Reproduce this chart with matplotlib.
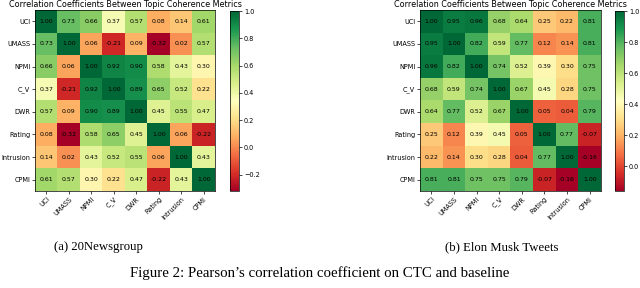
import numpy as np
import matplotlib
matplotlib.use("Agg")
import matplotlib.pyplot as plt

labels = ["UCI", "UMASS", "NPMI", "C_V", "DWR", "Rating", "Intrusion", "CPMI"]

news = [
    [1.00, 0.73, 0.66, 0.37, 0.57, 0.08, 0.14, 0.61],
    [0.73, 1.00, 0.06, -0.21, 0.09, -0.32, 0.02, 0.57],
    [0.66, 0.06, 1.00, 0.92, 0.90, 0.58, 0.43, 0.30],
    [0.37, -0.21, 0.92, 1.00, 0.89, 0.65, 0.52, 0.22],
    [0.57, 0.09, 0.90, 0.89, 1.00, 0.45, 0.55, 0.47],
    [0.08, -0.32, 0.58, 0.65, 0.45, 1.00, 0.06, -0.22],
    [0.14, 0.02, 0.43, 0.52, 0.55, 0.06, 1.00, 0.43],
    [0.61, 0.57, 0.30, 0.22, 0.47, -0.22, 0.43, 1.00],
]

musk = [
    [1.00, 0.95, 0.96, 0.68, 0.64, 0.25, 0.22, 0.81],
    [0.95, 1.00, 0.82, 0.59, 0.77, 0.12, 0.14, 0.81],
    [0.96, 0.82, 1.00, 0.74, 0.52, 0.39, 0.30, 0.75],
    [0.68, 0.59, 0.74, 1.00, 0.67, 0.45, 0.28, 0.75],
    [0.64, 0.77, 0.52, 0.67, 1.00, 0.05, 0.04, 0.79],
    [0.25, 0.12, 0.39, 0.45, 0.05, 1.00, 0.77, -0.07],
    [0.22, 0.14, 0.30, 0.28, 0.04, 0.77, 1.00, -0.16],
    [0.81, 0.81, 0.75, 0.75, 0.79, -0.07, -0.16, 1.00],
]

title = "Correlation Coefficients Between Topic Coherence Metrics"
captions = ["(a) 20Newsgroup", "(b) Elon Musk Tweets"]
figcap = "Figure 2: Pearson\u2019s correlation coefficient on CTC and baseline"

W, H = 640, 288
fig = plt.figure(figsize=(6.4, 2.88), dpi=100)

def px(x0, y0, x1, y1):
    return [x0 / W, 1 - y1 / H, (x1 - x0) / W, (y1 - y0) / H]

panels = [
    (news, px(35, 10, 215, 191), px(230, 11, 239, 191), [-0.2, 0.0, 0.2, 0.4, 0.6, 0.8, 1.0]),
    (musk, px(420, 10, 601, 191), px(615, 11, 624, 191), [0.0, 0.2, 0.4, 0.6, 0.8, 1.0]),
]

for data, axpos, cpos, cticks in panels:
    arr = np.array(data)
    ax = fig.add_axes(axpos)
    im = ax.imshow(arr, cmap="RdYlGn", aspect="auto", vmin=arr.min(), vmax=arr.max())
    for i in range(arr.shape[0]):
        for j in range(arr.shape[1]):
            ax.text(j, i, f"{arr[i, j]:.2f}", ha="center", va="center", fontsize=4.5, color="black")
    ax.set_xticks(range(len(labels)))
    ax.set_yticks(range(len(labels)))
    ax.set_xticklabels(labels, rotation=45, ha="right", rotation_mode="anchor", fontsize=4.7)
    ax.set_yticklabels(labels, fontsize=4.7)
    ax.tick_params(length=2, width=0.5, pad=1.5)
    for s in ax.spines.values():
        s.set_linewidth(0.5)
    ax.set_title(title, fontsize=5.8, pad=2.2)
    cax = fig.add_axes(cpos)
    cb = fig.colorbar(im, cax=cax, ticks=cticks)
    cb.ax.tick_params(labelsize=4.7, length=2, width=0.5, pad=1.5)
    cb.outline.set_linewidth(0.5)

serif = ["Liberation Serif", "DejaVu Serif"]
fig.text(98 / W, 1 - 247 / H, captions[0], ha="center", va="center", fontsize=9.2, family=serif)
fig.text(502 / W, 1 - 247 / H, captions[1], ha="center", va="center", fontsize=9.2, family=serif)
fig.text(320 / W, 1 - 273 / H, figcap, ha="center", va="center", fontsize=10.7, family=serif)

fig.savefig("out.png", dpi=100)
